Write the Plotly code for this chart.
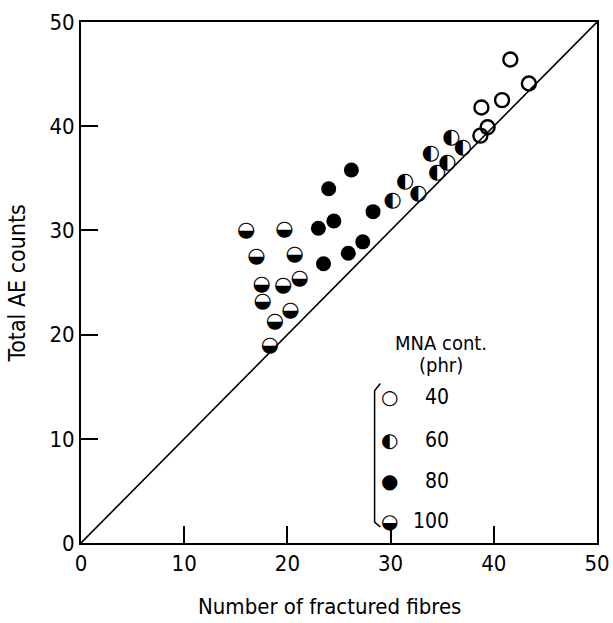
import plotly.graph_objects as go

# ── Data ──────────────────────────────────────────────────────────────────────
# MNA content 40 phr (open circles)
x_40 = [38.7, 39.4, 38.8, 40.8, 41.6, 43.4]
y_40 = [39.1, 39.9, 41.8, 42.5, 46.4, 44.1]

# MNA content 60 phr (left half filled)
x_60 = [30.2, 31.4, 32.7, 33.9, 34.5, 35.5, 35.9, 37.0]
y_60 = [32.8, 34.7, 33.5, 37.4, 35.5, 36.5, 38.9, 37.9]

# MNA content 80 phr (filled)
x_80 = [26.2, 24.0, 24.5, 23.0, 28.3, 23.5, 25.9, 27.3]
y_80 = [35.8, 34.0, 30.9, 30.2, 31.8, 26.8, 27.8, 28.9]

# MNA content 100 phr (lower half filled)
x_100 = [16.0, 19.7, 17.0, 20.7, 17.5, 19.6, 21.2, 17.6, 20.3, 18.8, 18.3]
y_100 = [30.0, 30.1, 27.5, 27.7, 24.8, 24.7, 25.4, 23.2, 22.3, 21.2, 18.9]

line_x = [0, 50]
line_y = [0, 50]

ticks = [0, 10, 20, 30, 40, 50]
legend_labels = ["40", "60", "80", "100"]

# ── Style ─────────────────────────────────────────────────────────────────────
_INK = "#000000"
_GLYPH = "DejaVu Sans"
_TEXTF = "DejaVu Sans Condensed, DejaVu Sans"
_HALF_LEFT = "\u25D0"
_HALF_LOW = "\u25D2"

fig = go.Figure()

fig.add_trace(go.Scatter(
    x=line_x, y=line_y, mode="lines",
    line=dict(color=_INK, width=1.6), showlegend=False, hoverinfo="skip",
))
fig.add_trace(go.Scatter(
    x=x_40, y=y_40, mode="markers", name="40",
    marker=dict(symbol="circle-open", size=14, color=_INK, line=dict(width=2.4)),
))
fig.add_trace(go.Scatter(
    x=x_80, y=y_80, mode="markers", name="80",
    marker=dict(symbol="circle", size=15, color=_INK),
))
fig.add_trace(go.Scatter(
    x=x_60, y=y_60, mode="text", name="60",
    text=[_HALF_LEFT] * len(x_60), textposition="middle center",
    textfont=dict(family=_GLYPH, size=21, color=_INK),
))
fig.add_trace(go.Scatter(
    x=x_100, y=y_100, mode="text", name="100",
    text=[_HALF_LOW] * len(x_100), textposition="middle center",
    textfont=dict(family=_GLYPH, size=21, color=_INK),
))

# ── Hand-drawn legend + axis titles ───────────────────────────────────────────
leg_y = [0.280, 0.198, 0.119, 0.042]
leg_sym = ["\u25CB", _HALF_LEFT, "\u25CF", _HALF_LOW]
annotations = [
    dict(x=0.698, y=0.384, text="MNA cont.", font=dict(size=20, family=_TEXTF)),
    dict(x=0.698, y=0.342, text="(phr)", font=dict(size=20, family=_TEXTF)),
    dict(x=0.481, y=-0.122, text="Number of fractured fibres",
         font=dict(size=22, family=_TEXTF)),
    dict(x=-0.124, y=0.498, text="Total AE counts", textangle=-90,
         font=dict(size=23, family=_TEXTF)),
]
for a in annotations:
    a.update(showarrow=False, xref="paper", yref="paper",
             xanchor="center", yanchor="middle")
for yy, sym, lab in zip(leg_y, leg_sym, legend_labels):
    annotations.append(dict(x=0.597, y=yy, text=sym, showarrow=False,
                            xanchor="center", yanchor="middle",
                            font=dict(size=20, family=_GLYPH),
                            xref="paper", yref="paper"))
    annotations.append(dict(x=0.717, y=yy, text=lab, showarrow=False,
                            xanchor="right", yanchor="middle",
                            font=dict(size=21, family=_TEXTF),
                            xref="paper", yref="paper"))

fig.add_shape(type="path", xref="paper", yref="paper",
              path="M 0.580,0.306 L 0.569,0.292 L 0.569,0.040 L 0.580,0.031",
              line=dict(color=_INK, width=1.5))

axis_common = dict(
    range=[0, 50], tickvals=ticks, ticks="inside", ticklen=17, tickwidth=2,
    tickcolor=_INK, showline=True, linewidth=2, linecolor=_INK, mirror=True,
    showgrid=False, zeroline=False, automargin=False,
    tickfont=dict(size=22, family=_TEXTF),
)

fig.update_layout(
    width=613, height=623,
    paper_bgcolor="white", plot_bgcolor="white",
    font=dict(family=_TEXTF, color=_INK, size=18),
    margin=dict(l=81, r=16, t=22, b=80),
    showlegend=False,
    annotations=annotations,
    xaxis=dict(**axis_common),
    yaxis=dict(**axis_common),
)

# drop the default 8px page margin so the figure fills the window exactly
fig.write_html("out.html", config={"displayModeBar": False},
               post_script="document.body.style.margin='0';")
